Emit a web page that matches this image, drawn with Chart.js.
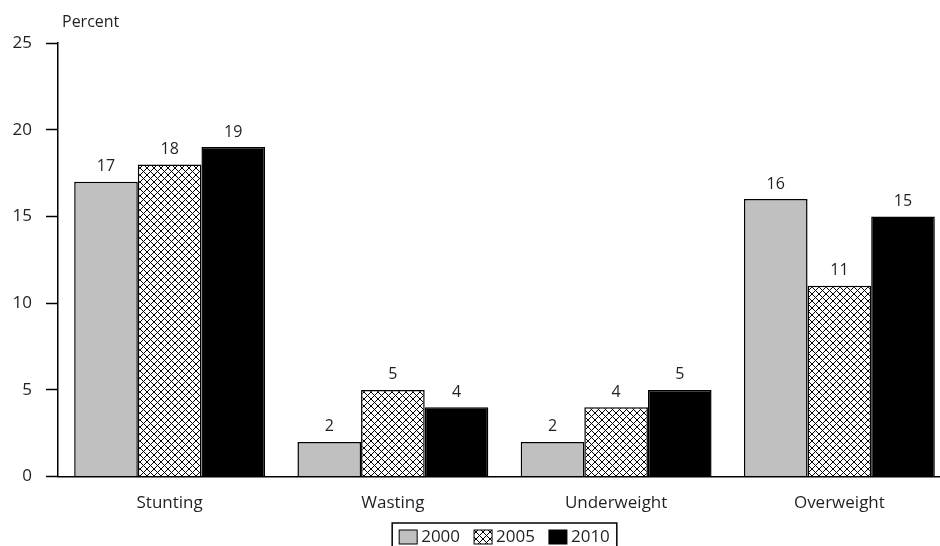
<!DOCTYPE html>
<html>
<head>
<meta charset="utf-8">
<script src="https://cdn.jsdelivr.net/npm/chart.js@4.4.1/dist/chart.umd.min.js"></script>
<style>
  body { margin: 0; background: #fff; overflow: hidden; }
  #wrap { width: 940px; height: 546px; overflow: hidden; }
</style>
</head>
<body>
<div id="wrap"><canvas id="myChart" width="951" height="546"></canvas></div>
<script>
var categories = ['Stunting', 'Wasting', 'Underweight', 'Overweight'];
var years = ['2000', '2005', '2010'];
var values2000 = [17, 2, 2, 16];
var values2005 = [18, 5, 4, 11];
var values2010 = [19, 4, 5, 15];
var yTicks = [0, 5, 10, 15, 20, 25];

var textColor = '#231f20';
var fontFamily = '"Open Sans", "Noto Sans", sans-serif';

// crosshatch fill for 2005
function makeHatch() {
    var c = document.createElement('canvas');
    c.width = 7; c.height = 7;
    var g = c.getContext('2d');
    g.fillStyle = '#fff';
    g.fillRect(0, 0, 7, 7);
    g.strokeStyle = '#000';
    g.lineWidth = 1;
    g.beginPath();
    g.moveTo(0, 0); g.lineTo(7, 7);
    g.moveTo(7, 0); g.lineTo(0, 7);
    g.stroke();
    return g.createPattern(c, 'repeat');
}
var hatch = makeHatch();
var fills = ['#c0c0c0', hatch, '#000'];

// value labels above bars
var valueLabels = {
    id: 'valueLabels',
    afterDatasetsDraw: function (chart) {
        var ctx = chart.ctx;
        ctx.save();
        ctx.font = '16px ' + fontFamily;
        ctx.fillStyle = textColor;
        ctx.textAlign = 'center';
        ctx.textBaseline = 'bottom';
        chart.data.datasets.forEach(function (ds, i) {
            chart.getDatasetMeta(i).data.forEach(function (bar, j) {
                ctx.fillText(ds.data[j], bar.x, bar.y - 7);
            });
        });
        ctx.restore();
    }
};

// "Percent" label and the boxed legend under the axis
var extras = {
    id: 'extras',
    afterDraw: function (chart) {
        var ctx = chart.ctx;
        var area = chart.chartArea;
        ctx.save();
        ctx.font = '16px ' + fontFamily;
        ctx.fillStyle = textColor;
        ctx.textAlign = 'left';
        ctx.textBaseline = 'middle';
        ctx.fillText('Percent', area.left + 4, 22);

        ctx.font = '17px ' + fontFamily;
        var sw = 18, sh = 14, gap = 4, itemGap = 14, pad = 7;
        var total = 0;
        years.forEach(function (y, i) {
            total += sw + gap + ctx.measureText(y).width + (i < years.length - 1 ? itemGap : 0);
        });
        var x = (area.left + area.right) / 2 - total / 2;
        var top = 523, cy = 537;
        ctx.strokeStyle = '#000';
        ctx.lineWidth = 1.5;
        ctx.strokeRect(x - pad, top, total + pad * 2, 40);
        years.forEach(function (y, i) {
            ctx.fillStyle = fills[i];
            ctx.fillRect(x, cy - sh / 2, sw, sh);
            ctx.lineWidth = 1;
            ctx.strokeRect(x, cy - sh / 2, sw, sh);
            ctx.fillStyle = textColor;
            ctx.fillText(y, x + sw + gap, cy);
            x += sw + gap + ctx.measureText(y).width + itemGap;
        });
        ctx.restore();
    }
};

var ctx = document.getElementById('myChart').getContext('2d');
var myChart = new Chart(ctx, {
    type: 'bar',
    data: {
        labels: categories,
        datasets: [
            { label: years[0], data: values2000, backgroundColor: fills[0] },
            { label: years[1], data: values2005, backgroundColor: fills[1] },
            { label: years[2], data: values2010, backgroundColor: fills[2] }
        ]
    },
    options: {
        responsive: false,
        animation: false,
        layout: { padding: { left: 0, right: 0, top: 43, bottom: 17 } },
        datasets: {
            bar: {
                borderColor: '#000',
                borderWidth: 1.5,
                barPercentage: 1,
                categoryPercentage: 0.855
            }
        },
        plugins: {
            tooltip: { enabled: false },
            legend: { display: false }
        },
        scales: {
            x: {
                grid: { display: false, drawTicks: false },
                border: { display: true, color: '#000', width: 1.5 },
                ticks: {
                    color: textColor,
                    padding: 16,
                    font: { family: fontFamily, size: 17 }
                }
            },
            y: {
                min: 0,
                max: 25,
                afterBuildTicks: function (scale) {
                    scale.ticks = yTicks.map(v => ({ value: v }));
                },
                afterFit: function (scale) {
                    scale.width = 58;
                },
                grid: {
                    drawOnChartArea: false,
                    drawTicks: true,
                    tickLength: 12,
                    tickWidth: 1.5,
                    tickColor: '#000'
                },
                border: { display: true, color: '#000', width: 1.5 },
                ticks: {
                    color: textColor,
                    padding: 14,
                    font: { family: fontFamily, size: 17 }
                }
            }
        }
    },
    plugins: [valueLabels, extras]
});
</script>
</body>
</html>
